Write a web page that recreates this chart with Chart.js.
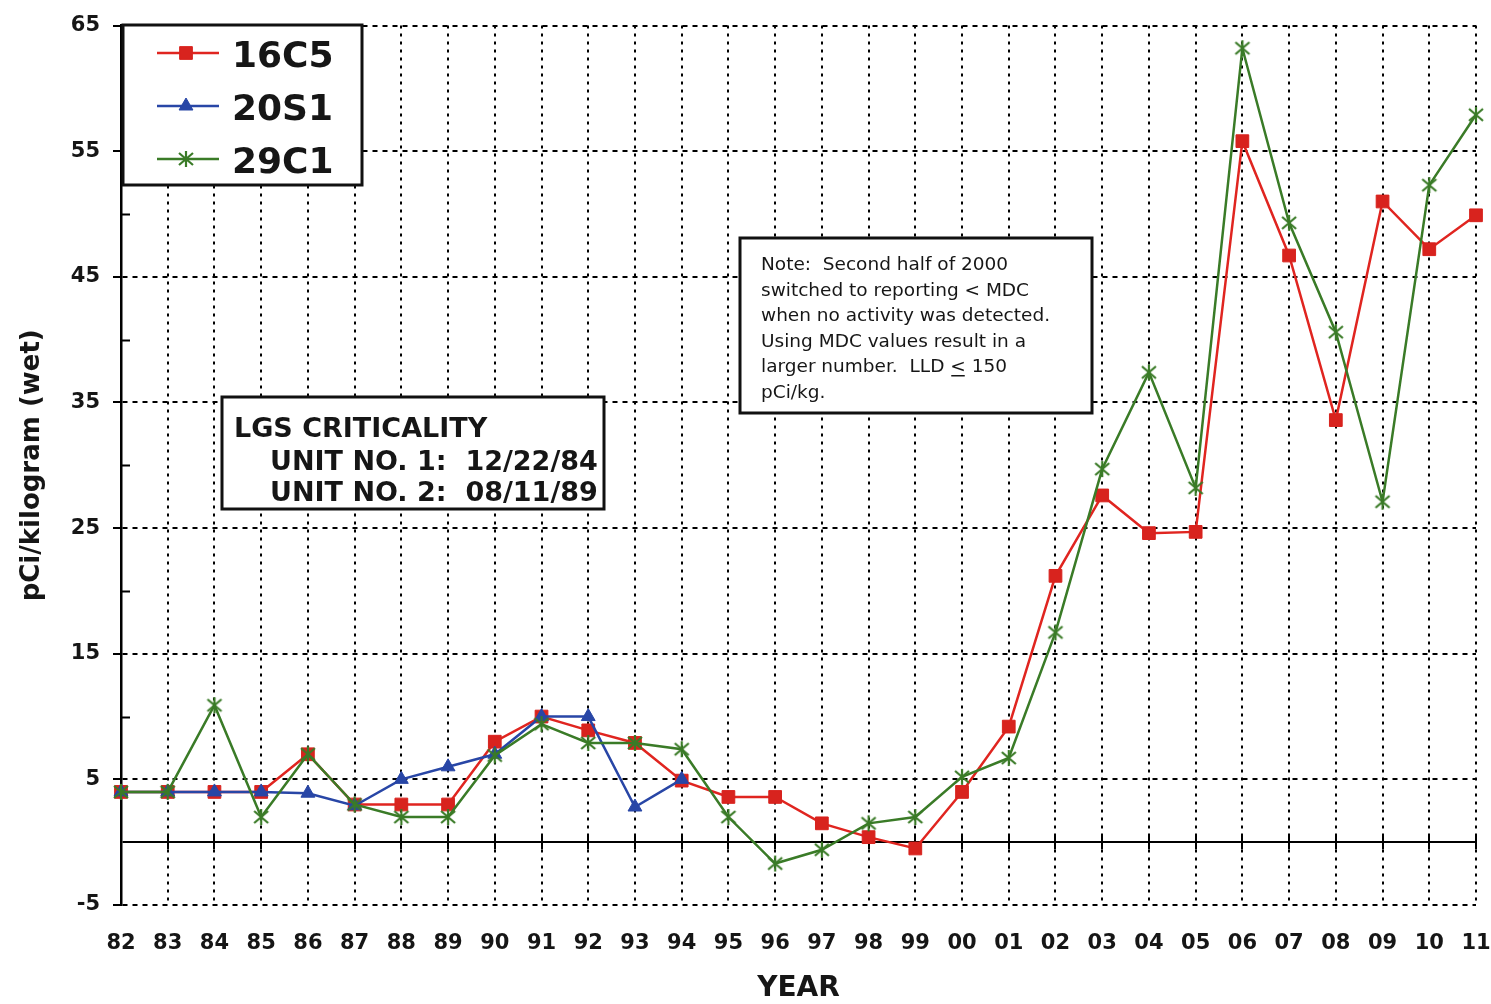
<!DOCTYPE html>
<html>
<head>
<meta charset="utf-8">
<title>LGS 16C5 / 20S1 / 29C1</title>
<script src="https://cdn.jsdelivr.net/npm/chart.js@4.4.1/dist/chart.umd.min.js"></script>
<style>
  html, body { margin: 0; padding: 0; background: #fff; }
  #wrap { width: 1491px; height: 1004px; }
</style>
</head>
<body>
<div id="wrap"><canvas id="c" width="1491" height="1004"></canvas></div>
<script>
// ---- data -------------------------------------------------------------
const years = ['82','83','84','85','86','87','88','89','90','91','92','93','94','95','96',
               '97','98','99','00','01','02','03','04','05','06','07','08','09','10','11'];

const s16C5 = [4, 4, 4, 4, 7, 3, 3, 3, 8, 10, 8.9, 7.9, 4.9, 3.6, 3.6,
               1.5, 0.4, -0.5, 4, 9.2, 21.2, 27.6, 24.6, 24.7, 55.8, 46.7, 33.6, 51, 47.2, 49.9];

const s20S1 = [4, 4, 4, 4, 3.9, 2.9, 5, 6, 7, 10, 10, 2.8, 5];

const s29C1 = [4, 4, 10.9, 2, 7, 3, 2, 2, 6.9, 9.4, 7.9, 7.9, 7.4, 2, -1.7,
               -0.6, 1.5, 2, 5.2, 6.7, 16.7, 29.7, 37.4, 28.2, 63.2, 49.3, 40.6, 27.1, 52.3, 57.9];

const yLabelled = [-5, 5, 15, 25, 35, 45, 55, 65];
const yMinorMarks = [10, 20, 30, 40, 50, 60];

const noteLines = [
  'Note:  Second half of 2000',
  'switched to reporting < MDC',
  'when no activity was detected.',
  'Using MDC values result in a',
  'larger number.  LLD ',
  'pCi/kg.'
];
const criticalityLines = ['LGS CRITICALITY', 'UNIT NO. 1:  12/22/84', 'UNIT NO. 2:  08/11/89'];

// ---- styling ----------------------------------------------------------
const FONT = 'DejaVu Sans';
const TEXT = '#161616';
const RED = '#e02520';
const BLUE = '#2846a6';
const GREEN = '#3a7b27';

// asterisk marker (X with a vertical stroke)
function makeAsterisk(color) {
  const c = document.createElement('canvas');
  c.width = 18; c.height = 18;
  const g = c.getContext('2d');
  g.strokeStyle = color;
  g.lineWidth = 2.2;
  g.beginPath();
  g.moveTo(2, 3); g.lineTo(16, 15);
  g.moveTo(16, 3); g.lineTo(2, 15);
  g.moveTo(9, 1); g.lineTo(9, 17);
  g.stroke();
  return c;
}
const starMarker = makeAsterisk(GREEN);

// ---- plugins ----------------------------------------------------------
const axisMarks = {
  id: 'axisMarks',
  beforeDatasetsDraw(chart) {
    const { ctx, scales: { x, y }, chartArea } = chart;
    ctx.save();
    ctx.strokeStyle = '#000';
    ctx.lineWidth = 2;
    ctx.beginPath();
    // short inward marks on the value axis between labelled values
    yMinorMarks.forEach(v => {
      const py = Math.round(y.getPixelForValue(v)) + 0.5;
      ctx.moveTo(chartArea.left, py);
      ctx.lineTo(chartArea.left + 9, py);
    });
    // tick marks crossing the zero line at each year
    const py0 = y.getPixelForValue(0);
    years.forEach((_, i) => {
      const px = Math.round(x.getPixelForValue(i));
      ctx.moveTo(px, py0 - 7);
      ctx.lineTo(px, py0 + 7);
    });
    ctx.stroke();
    ctx.restore();
  }
};

function drawBox(ctx, x, y, w, h) {
  ctx.fillStyle = '#fff';
  ctx.fillRect(x, y, w, h);
  ctx.strokeStyle = '#111';
  ctx.lineWidth = 3;
  ctx.strokeRect(x, y, w, h);
  ctx.fillStyle = TEXT;
  ctx.textAlign = 'left';
  ctx.textBaseline = 'alphabetic';
}

const boxes = {
  id: 'boxes',
  afterDraw(chart) {
    const ctx = chart.ctx;
    ctx.save();

    // series key
    drawBox(ctx, 123, 25, 239, 160);
    const rowY = [53, 106, 159];
    chart.data.datasets.forEach((ds, i) => {
      const yy = rowY[i];
      ctx.strokeStyle = ds.borderColor;
      ctx.lineWidth = ds.borderWidth;
      ctx.beginPath();
      ctx.moveTo(157, yy);
      ctx.lineTo(219, yy);
      ctx.stroke();
      ctx.fillStyle = ds.pointBackgroundColor;
      ctx.strokeStyle = ds.pointBorderColor;
      ctx.lineWidth = ds.pointBorderWidth;
      Chart.helpers.drawPoint(ctx, {
        pointStyle: ds.pointStyle,
        radius: ds.pointRadius,
        rotation: 0,
        borderWidth: ds.pointBorderWidth
      }, 186, yy);
      ctx.fillStyle = TEXT;
      ctx.font = 'bold 36px "' + FONT + '"';
      ctx.fillText(ds.label, 232, yy + 14);
    });

    // criticality dates
    drawBox(ctx, 222, 397, 382, 112);
    ctx.font = 'bold 27px "' + FONT + '"';
    ctx.fillText(criticalityLines[0], 234, 437);
    ctx.fillText(criticalityLines[1], 270, 470);
    ctx.fillText(criticalityLines[2], 270, 501);

    // reporting note
    drawBox(ctx, 740, 238, 352, 175);
    ctx.font = '18.5px "' + FONT + '"';
    const bx = 761;
    const base = [270, 295.5, 321, 346.5, 372, 397.5];
    noteLines.forEach((t, i) => ctx.fillText(t, bx, base[i]));
    // "< 150" with the underlined sign
    const w1 = ctx.measureText(noteLines[4]).width;
    const lt = '<';
    const wl = ctx.measureText(lt).width;
    ctx.fillText(lt, bx + w1, base[4]);
    ctx.fillRect(bx + w1 + 1, base[4] + 3, wl - 2, 1.5);
    ctx.fillText(' 150', bx + w1 + wl, base[4]);

    ctx.restore();
  }
};

// ---- chart ------------------------------------------------------------
const isLabelled = v => yLabelled.includes(v);

new Chart(document.getElementById('c'), {
  type: 'line',
  data: {
    labels: years,
    datasets: [
      {
        label: '16C5', data: s16C5,
        borderColor: RED, borderWidth: 2.5,
        pointStyle: 'rect', pointRadius: 9,
        pointBackgroundColor: '#d8231e', pointBorderColor: '#d8231e', pointBorderWidth: 1,
        tension: 0, order: 3
      },
      {
        label: '20S1', data: s20S1,
        borderColor: BLUE, borderWidth: 2.5,
        pointStyle: 'triangle', pointRadius: 8,
        pointBackgroundColor: BLUE, pointBorderColor: BLUE, pointBorderWidth: 1,
        tension: 0, order: 2
      },
      {
        label: '29C1', data: s29C1,
        borderColor: GREEN, borderWidth: 2.5,
        pointStyle: starMarker, pointRadius: 9,
        pointBackgroundColor: GREEN, pointBorderColor: GREEN, pointBorderWidth: 1,
        tension: 0, order: 1
      }
    ]
  },
  options: {
    responsive: false,
    animation: false,
    devicePixelRatio: 1,
    events: [],
    layout: { padding: { left: 0, right: 15, top: 22, bottom: 0 } },
    plugins: { legend: { display: false }, tooltip: { enabled: false } },
    scales: {
      x: {
        type: 'category',
        offset: false,
        grid: { color: '#000', lineWidth: 2, drawTicks: false },
        border: { display: false, dash: [3, 5] },
        ticks: {
          color: TEXT, padding: 26, maxRotation: 0, autoSkip: false,
          font: { family: FONT, weight: 'bold', size: 21 }
        },
        title: {
          display: true, text: 'YEAR', color: TEXT,
          font: { family: FONT, weight: 'bold', size: 28 },
          padding: { top: 0, bottom: -2 }
        },
        afterFit(s) { s.height = 99; s.paddingLeft = 0; s.paddingRight = 0; }
      },
      y: {
        min: -5, max: 65,
        ticks: {
          stepSize: 5, color: TEXT, padding: 13,
          font: { family: FONT, weight: 'bold', size: 21 },
          callback: v => (isLabelled(v) ? String(v) : '')
        },
        grid: {
          color: c => (c.tick && (c.tick.value === 0 || isLabelled(c.tick.value)) ? '#000' : 'rgba(0,0,0,0)'),
          tickColor: c => (c.tick && isLabelled(c.tick.value) ? '#000' : 'rgba(0,0,0,0)'),
          lineWidth: 2,
          tickLength: 8,
          tickWidth: 2
        },
        border: {
          display: true, color: '#000', width: 2.5,
          dash: c => (c.tick && c.tick.value === 0 ? [] : [5, 5])
        },
        title: {
          display: true, text: 'pCi/kilogram (wet)', color: TEXT,
          font: { family: FONT, weight: 'bold', size: 26 },
          padding: { top: 17, bottom: 0 }
        },
        afterFit(s) { s.width = 121; }
      }
    }
  },
  plugins: [axisMarks, boxes]
});
</script>
</body>
</html>
